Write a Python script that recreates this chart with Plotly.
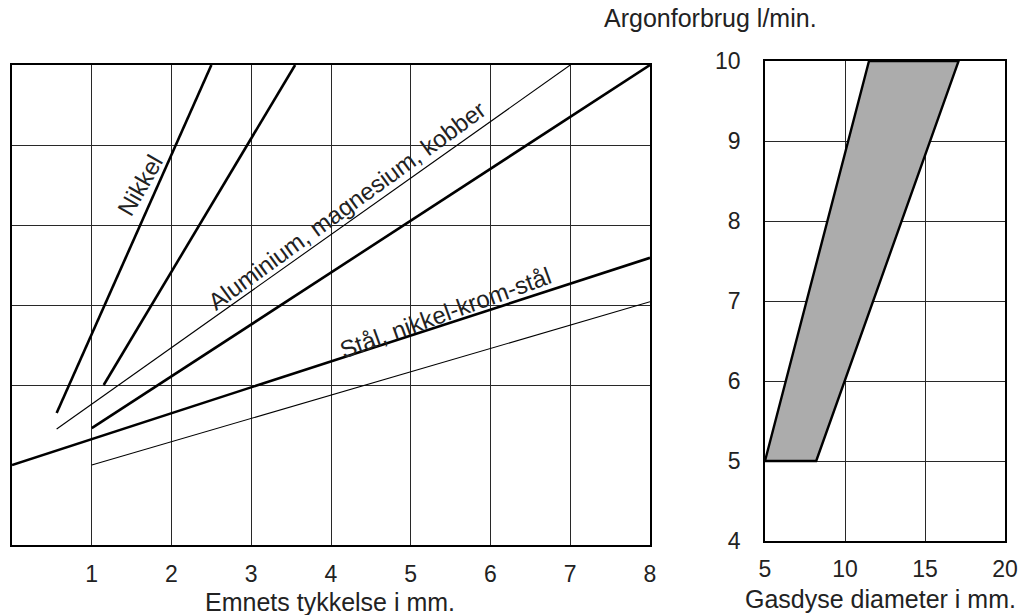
"""Argon consumption nomogram: plate thickness and nozzle diameter."""
import plotly.graph_objects as go

# left panel: plate thickness (mm) vs. flow, one straight line per material band
nikkel_a_x = [0.56, 2.5]
nikkel_a_y = [5.65, 10.0]
nikkel_b_x = [1.15, 3.55]
nikkel_b_y = [6.0, 10.0]
alu_thin_x = [0.56, 7.0]
alu_thin_y = [5.45, 10.0]
alu_thick_x = [1.0, 8.0]
alu_thick_y = [5.46, 10.0]
staal_thick_x = [0.0, 8.0]
staal_thick_y = [5.0, 7.59]
staal_thin_x = [1.0, 8.0]
staal_thin_y = [5.0, 7.04]

left_xticks = [1, 2, 3, 4, 5, 6, 7, 8]
left_ygrid = [6, 7, 8, 9]

# right panel: nozzle diameter (mm) vs. argon flow (l/min), shaded band
band_x = [5.0, 8.2, 17.1, 11.5, 5.0]
band_y = [5.0, 5.0, 10.0, 10.0, 5.0]
right_xticks = [5, 10, 15, 20]
right_yticks = [4, 5, 6, 7, 8, 9, 10]

FONT = "Liberation Sans, Arial, sans-serif"
W, H = 1023, 615


def px_x(a, b):
    return [a / W, b / W]


def px_y(top, bottom):
    return [(H - bottom) / H, (H - top) / H]


fig = go.Figure()

thick = dict(color="black", width=2.6)
thin = dict(color="black", width=1.1)
for xs, ys, ln in [
    (nikkel_a_x, nikkel_a_y, thick),
    (nikkel_b_x, nikkel_b_y, thick),
    (alu_thin_x, alu_thin_y, thin),
    (alu_thick_x, alu_thick_y, thick),
    (staal_thick_x, staal_thick_y, thick),
    (staal_thin_x, staal_thin_y, thin),
]:
    fig.add_trace(go.Scatter(x=xs, y=ys, mode="lines", line=ln,
                             xaxis="x", yaxis="y", hoverinfo="skip"))

fig.add_trace(go.Scatter(
    x=band_x, y=band_y, mode="lines", fill="toself",
    fillcolor="rgb(172,172,172)", line=dict(color="black", width=2.4),
    xaxis="x2", yaxis="y2", hoverinfo="skip",
))

axis_common = dict(
    showline=True, mirror=True, linecolor="black", linewidth=1.5,
    gridcolor="rgb(40,40,40)", gridwidth=1, zeroline=False, ticks="",
    tickfont=dict(family=FONT, size=23, color="#222"),
    fixedrange=True, automargin=False,
)

fig.update_layout(
    width=W, height=H,
    margin=dict(l=0, r=0, t=0, b=0, autoexpand=False),
    paper_bgcolor="white", plot_bgcolor="white",
    showlegend=False,
    font=dict(family=FONT, color="#222"),
    xaxis=dict(axis_common, domain=px_x(12, 650), range=[0, 8],
               tickvals=left_xticks, ticklabelstandoff=8, anchor="y"),
    yaxis=dict(axis_common, domain=px_y(65, 545), range=[4, 10],
               tickvals=left_ygrid, showticklabels=False, anchor="x"),
    xaxis2=dict(axis_common, domain=px_x(765, 1005), range=[5, 20],
                tickvals=right_xticks, ticklabelstandoff=7, anchor="y2"),
    yaxis2=dict(axis_common, domain=px_y(61, 541), range=[4, 10],
                tickvals=right_yticks, ticklabelstandoff=18, anchor="x2"),
)

label_font = dict(family=FONT, size=24, color="#222")
title_font = dict(family=FONT, size=25, color="#222")
annotations = [
    dict(text="Nikkel", x=1.6, y=8.5, xref="x", yref="y", textangle=-60,
         font=label_font),
    dict(text="Aluminium, magnesium, kobber", x=4.2, y=8.24, xref="x", yref="y",
         textangle=-36, font=label_font),
    dict(text="Stål, nikkel-krom-stål", x=5.44, y=6.91, xref="x", yref="y",
         textangle=-20, font=label_font),
    dict(text="Emnets tykkelse i mm.", x=330 / W, y=(H - 602) / H,
         xref="paper", yref="paper", font=title_font),
    dict(text="Gasdyse diameter i mm.", x=880 / W, y=(H - 599) / H,
         xref="paper", yref="paper", font=title_font),
    dict(text="Argonforbrug l/min.", x=710 / W, y=(H - 18) / H,
         xref="paper", yref="paper", font=title_font),
]
for a in annotations:
    fig.add_annotation(showarrow=False, xanchor="center", yanchor="middle", **a)

fig.write_html("out.html", config={"displayModeBar": False},
               post_script="document.body.style.margin='0';")
